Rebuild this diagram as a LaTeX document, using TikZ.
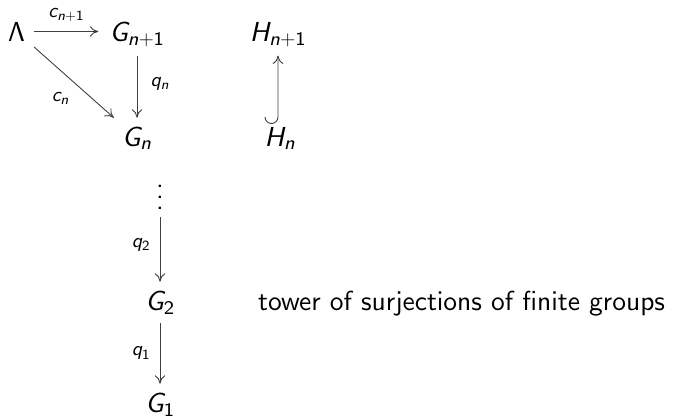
\documentclass[tikz,border=0pt]{standalone}
\usetikzlibrary{arrows.meta}
\DeclareFontFamily{OT1}{xcmss}{}
\DeclareFontShape{OT1}{xcmss}{m}{n}{<-20> cmss8 <20-> cmss10}{}
\DeclareFontShape{OT1}{xcmss}{m}{sl}{<-20> cmssi8 <20-> cmssi10}{}
\DeclareMathAlphabet{\mssi}{OT1}{xcmss}{m}{sl}
\DeclareMathAlphabet{\mssr}{OT1}{xcmss}{m}{n}
\newcommand\sstext{\fontencoding{OT1}\fontfamily{xcmss}\fontshape{n}\selectfont}
\newcommand\myvdots{\vbox{\baselineskip=11pt\lineskiplimit=-20pt\hbox{\sstext .}\hbox{\sstext .}\hbox{\sstext .}}}
\begin{document}
\begin{tikzpicture}[x=1pt,y=-1pt,
  obj/.style={font=\fontsize{27.5}{32}\selectfont, inner sep=9pt, anchor=base},
  lbl/.style={font=\fontsize{20}{24}\selectfont, inner sep=0pt, anchor=center},
  arr/.style={draw=black!75, line width=0.9pt, -{To[length=8.5pt,width=10.5pt]}}]
\useasboundingbox (0,0) rectangle (689,418);
\node[obj] (L) at (16.5,41) {$\mssr{\Lambda}$};
\node[obj] (Gn1) at (137,41) {$\mssi{G}_{\mssi{n}+\mssr{1}}$};
\node[obj] (Gn) at (137,146) {$\mssi{G}_{\mssi{n}}$};
\node[obj] (Hn1) at (278,41) {$\mssi{H}_{\mssi{n}+\mssr{1}}$};
\node[obj] (Hn) at (280,146) {$\mssi{H}_{\mssi{n}}$};
\node[obj, inner sep=7.5pt, anchor=center] (vd) at (160,197) {\myvdots};
\node[obj] (G2) at (160,310) {$\mssi{G}_{\mssr{2}}$};
\node[obj] (G1) at (160,412) {$\mssi{G}_{\mssr{1}}$};
\node[obj, anchor=base west, inner sep=0pt] (txt) at (258,310) {\sstext tower of surjections of finite groups};
\coordinate (hs) at (265,117);
\draw[arr] (L.east) -- node[lbl, yshift=16pt] {$\mssi{c}_{\mssi{n}+\mssr{1}}$} ([xshift=-2pt]L.east -| Gn1.west);
\draw[arr] (L) -- node[lbl, xshift=-13.5pt, yshift=-16pt] {$\mssi{c}_{\mssi{n}}$} (Gn);
\draw[arr] (Gn1) -- node[lbl, xshift=23pt, yshift=3pt] {$\mssi{q}_{\mssi{n}}$} (Gn);
\draw[arr] (hs) arc[start angle=180, end angle=0, radius=6.5] -- (Hn1);
\draw[arr] (vd) -- node[lbl, xshift=-19pt, yshift=4pt] {$\mssi{q}_{\mssr{2}}$} (G2);
\draw[arr] (G2) -- node[lbl, xshift=-19pt] {$\mssi{q}_{\mssr{1}}$} (G1);
\end{tikzpicture}
\end{document}
